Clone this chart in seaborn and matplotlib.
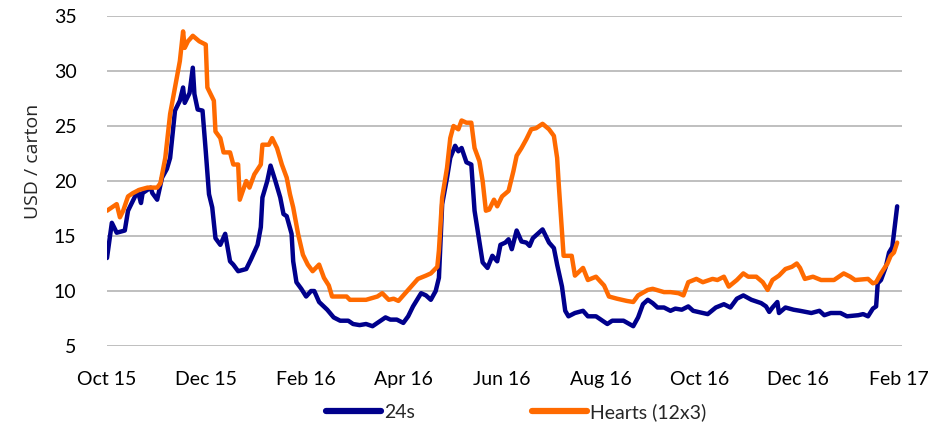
import pandas as pd
import matplotlib
matplotlib.use("Agg")
import matplotlib.pyplot as plt
import seaborn as sns

# ---------------
# data (USD / carton)
dates_24s = [
    "2015-10-01", "2015-10-04", "2015-10-07", "2015-10-12", "2015-10-14", "2015-10-17",
    "2015-10-20", "2015-10-22", "2015-10-23", "2015-10-28", "2015-10-29", "2015-11-01",
    "2015-11-04", "2015-11-07", "2015-11-09", "2015-11-12", "2015-11-15", "2015-11-17",
    "2015-11-18", "2015-11-21", "2015-11-23", "2015-11-24", "2015-11-26", "2015-11-29",
    "2015-12-01", "2015-12-03", "2015-12-05", "2015-12-07", "2015-12-10", "2015-12-13",
    "2015-12-16", "2015-12-18", "2015-12-21", "2015-12-26", "2015-12-29", "2016-01-02",
    "2016-01-04", "2016-01-05", "2016-01-08", "2016-01-10", "2016-01-13", "2016-01-16",
    "2016-01-18", "2016-01-20", "2016-01-23", "2016-01-24", "2016-01-26", "2016-01-29",
    "2016-02-01", "2016-02-04", "2016-02-06", "2016-02-09", "2016-02-14", "2016-02-18",
    "2016-02-22", "2016-02-27", "2016-03-01", "2016-03-05", "2016-03-09", "2016-03-13",
    "2016-03-16", "2016-03-21", "2016-03-24", "2016-03-28", "2016-04-01", "2016-04-04",
    "2016-04-07", "2016-04-12", "2016-04-15", "2016-04-18", "2016-04-21", "2016-04-23",
    "2016-04-25", "2016-04-28", "2016-04-30", "2016-05-03", "2016-05-05", "2016-05-07",
    "2016-05-10", "2016-05-13", "2016-05-15", "2016-05-18", "2016-05-20", "2016-05-23",
    "2016-05-26", "2016-05-29", "2016-05-31", "2016-06-03", "2016-06-05", "2016-06-07",
    "2016-06-10", "2016-06-13", "2016-06-16", "2016-06-18", "2016-06-20", "2016-06-26",
    "2016-06-30", "2016-07-03", "2016-07-05", "2016-07-08", "2016-07-10", "2016-07-12",
    "2016-07-16", "2016-07-21", "2016-07-24", "2016-07-29", "2016-08-01", "2016-08-05",
    "2016-08-08", "2016-08-15", "2016-08-21", "2016-08-24", "2016-08-27", "2016-08-30",
    "2016-09-02", "2016-09-05", "2016-09-09", "2016-09-13", "2016-09-16", "2016-09-20",
    "2016-09-24", "2016-09-27", "2016-10-03", "2016-10-06", "2016-10-11", "2016-10-16",
    "2016-10-20", "2016-10-24", "2016-10-28", "2016-11-02", "2016-11-08", "2016-11-11",
    "2016-11-13", "2016-11-15", "2016-11-18", "2016-11-19", "2016-11-23", "2016-11-28",
    "2016-12-02", "2016-12-09", "2016-12-14", "2016-12-17", "2016-12-21", "2016-12-27",
    "2016-12-31", "2017-01-07", "2017-01-10", "2017-01-13", "2017-01-16", "2017-01-18",
    "2017-01-19", "2017-01-21", "2017-01-24", "2017-01-26", "2017-01-28", "2017-01-31",
]
price_24s = [
    13.0, 16.2, 15.3, 15.5, 17.3, 18.2,
    19.1, 18.0, 18.9, 19.4, 18.9, 18.3,
    20.3, 21.1, 22.1, 26.4, 27.3, 28.5,
    27.1, 28.0, 30.3, 27.9, 26.5, 26.4,
    22.7, 18.8, 17.6, 14.8, 14.2, 15.2,
    12.7, 12.4, 11.8, 12.0, 12.9, 14.2,
    15.8, 18.5, 20.0, 21.4, 20.0, 18.5,
    17.0, 16.8, 15.2, 12.7, 10.8, 10.2,
    9.5, 10.0, 10.0, 9.0, 8.3, 7.6,
    7.3, 7.3, 7.0, 6.9, 7.0, 6.8,
    7.1, 7.6, 7.4, 7.4, 7.1, 7.7,
    8.6, 9.8, 9.6, 9.2, 10.0, 11.2,
    17.9, 20.3, 22.1, 23.2, 22.7, 23.0,
    21.7, 21.5, 17.3, 14.5, 12.6, 12.1,
    13.2, 12.7, 14.2, 14.4, 14.7, 13.8,
    15.5, 14.5, 14.4, 14.1, 14.8, 15.6,
    14.4, 13.9, 12.4, 10.4, 8.2, 7.7,
    8.0, 8.2, 7.7, 7.7, 7.4, 7.0,
    7.3, 7.3, 6.8, 7.6, 8.8, 9.2,
    8.9, 8.5, 8.5, 8.2, 8.4, 8.3,
    8.6, 8.2, 8.0, 7.9, 8.5, 8.8,
    8.5, 9.3, 9.6, 9.2, 8.9, 8.6,
    8.1, 8.5, 9.0, 8.0, 8.5, 8.3,
    8.2, 8.0, 8.2, 7.8, 8.0, 8.0,
    7.7, 7.8, 7.9, 7.7, 8.4, 8.6,
    10.7, 11.0, 12.2, 13.5, 14.0, 17.7,
]

dates_hearts = [
    "2015-10-01", "2015-10-04", "2015-10-07", "2015-10-09", "2015-10-11", "2015-10-14",
    "2015-10-17", "2015-10-21", "2015-10-26", "2015-11-01", "2015-11-03", "2015-11-06",
    "2015-11-09", "2015-11-12", "2015-11-15", "2015-11-17", "2015-11-18", "2015-11-20",
    "2015-11-23", "2015-11-27", "2015-12-01", "2015-12-02", "2015-12-06", "2015-12-07",
    "2015-12-10", "2015-12-12", "2015-12-16", "2015-12-18", "2015-12-21", "2015-12-22",
    "2015-12-26", "2015-12-28", "2015-12-31", "2016-01-04", "2016-01-05", "2016-01-09",
    "2016-01-11", "2016-01-14", "2016-01-17", "2016-01-20", "2016-01-22", "2016-01-24",
    "2016-01-27", "2016-01-30", "2016-02-02", "2016-02-05", "2016-02-09", "2016-02-12",
    "2016-02-15", "2016-02-17", "2016-02-26", "2016-02-28", "2016-03-09", "2016-03-16",
    "2016-03-19", "2016-03-23", "2016-03-26", "2016-03-29", "2016-04-01", "2016-04-04",
    "2016-04-10", "2016-04-15", "2016-04-18", "2016-04-22", "2016-04-23", "2016-04-25",
    "2016-04-28", "2016-04-30", "2016-05-02", "2016-05-05", "2016-05-07", "2016-05-10",
    "2016-05-13", "2016-05-15", "2016-05-18", "2016-05-20", "2016-05-22", "2016-05-24",
    "2016-05-27", "2016-05-29", "2016-06-01", "2016-06-05", "2016-06-08", "2016-06-10",
    "2016-06-13", "2016-06-16", "2016-06-19", "2016-06-22", "2016-06-26", "2016-06-30",
    "2016-07-03", "2016-07-05", "2016-07-06", "2016-07-09", "2016-07-14", "2016-07-16",
    "2016-07-21", "2016-07-24", "2016-07-29", "2016-08-03", "2016-08-06", "2016-08-11",
    "2016-08-17", "2016-08-21", "2016-08-24", "2016-08-30", "2016-09-02", "2016-09-09",
    "2016-09-13", "2016-09-18", "2016-09-21", "2016-09-24", "2016-09-29", "2016-10-03",
    "2016-10-09", "2016-10-12", "2016-10-16", "2016-10-19", "2016-10-24", "2016-10-28",
    "2016-10-31", "2016-11-05", "2016-11-09", "2016-11-12", "2016-11-15", "2016-11-19",
    "2016-11-23", "2016-11-27", "2016-11-30", "2016-12-02", "2016-12-05", "2016-12-10",
    "2016-12-15", "2016-12-23", "2016-12-29", "2017-01-02", "2017-01-05", "2017-01-13",
    "2017-01-16", "2017-01-18", "2017-01-21", "2017-01-25", "2017-01-27", "2017-01-29",
    "2017-01-31",
]
price_hearts = [
    17.3, 17.6, 17.9, 16.7, 17.3, 18.6,
    18.9, 19.2, 19.4, 19.4, 19.8, 22.1,
    26.1, 28.5, 30.9, 33.6, 32.1, 32.7,
    33.2, 32.7, 32.4, 28.5, 27.3, 24.5,
    23.9, 22.6, 22.6, 21.5, 21.5, 18.3,
    20.0, 19.4, 20.6, 21.5, 23.3, 23.3,
    23.9, 23.0, 21.5, 20.3, 18.8, 17.6,
    15.2, 13.3, 12.4, 11.8, 12.4, 11.2,
    10.5, 9.5, 9.5, 9.2, 9.2, 9.5,
    9.8, 9.2, 9.3, 9.1, 9.6, 10.1,
    11.1, 11.4, 11.6, 12.2, 13.7, 18.5,
    21.2, 23.9, 25.0, 24.7, 25.5, 25.3,
    25.3, 23.0, 21.8, 20.0, 17.3, 17.4,
    18.3, 17.7, 18.6, 19.1, 20.9, 22.3,
    23.0, 23.8, 24.7, 24.8, 25.2, 24.7,
    24.1, 22.1, 19.7, 13.2, 13.2, 11.4,
    12.1, 11.0, 11.3, 10.5, 9.5, 9.3,
    9.1, 9.0, 9.6, 10.1, 10.2, 9.9,
    9.9, 9.8, 9.6, 10.8, 11.1, 10.8,
    11.1, 11.0, 11.3, 10.4, 11.0, 11.6,
    11.3, 11.3, 10.8, 10.1, 11.0, 11.4,
    12.0, 12.2, 12.5, 12.1, 11.1, 11.3,
    11.0, 11.0, 11.6, 11.3, 11.0, 11.1,
    10.7, 10.8, 11.6, 12.5, 13.2, 13.5,
    14.4,
]

series_names = ["24s", "Hearts (12x3)"]
series_colors = ["#00008C", "#FF6A00"]
tick_months = ["2015-10-01", "2015-12-01", "2016-02-01", "2016-04-01", "2016-06-01",
               "2016-08-01", "2016-10-01", "2016-12-01", "2017-02-01"]
tick_labels = ["Oct 15", "Dec 15", "Feb 16", "Apr 16", "Jun 16",
               "Aug 16", "Oct 16", "Dec 16", "Feb 17"]

df = pd.concat([
    pd.DataFrame({"date": pd.to_datetime(dates_24s), "price": price_24s, "grade": series_names[0]}),
    pd.DataFrame({"date": pd.to_datetime(dates_hearts), "price": price_hearts, "grade": series_names[1]}),
])

# ---------------
sns.set_style("white")
plt.rcParams["font.family"] = ["Lato", "DejaVu Sans"]

fig = plt.figure(figsize=(9.36, 4.36), dpi=100)
ax = fig.add_axes([0.1143, 0.2064, 0.8494, 0.7569])

sns.lineplot(data=df, x="date", y="price", hue="grade", hue_order=series_names,
             palette=series_colors, linewidth=3.2, ax=ax, legend=True)

ax.set_ylim(5, 35)
ax.set_yticks(range(5, 40, 5))
ax.set_xlim(pd.Timestamp("2015-10-01"), pd.Timestamp("2017-02-03"))
ax.set_xticks(pd.to_datetime(tick_months))
ax.set_xticklabels(tick_labels)
ax.grid(axis="y", color="#BFBFBF", linewidth=1.4)
ax.set_axisbelow(True)
for s in ax.spines.values():
    s.set_visible(False)
ax.tick_params(axis="both", length=0, labelsize=14, colors="black")
ax.tick_params(axis="x", pad=18)
ax.tick_params(axis="y", pad=22)

ax.set_xlabel("")
ax.set_ylabel("USD / carton", fontsize=14, family=["Open Sans", "DejaVu Sans"])
ax.yaxis.set_label_coords(-0.082, 0.56)

leg = ax.legend(loc="upper center", bbox_to_anchor=(0.515, -0.12), ncol=2, frameon=False,
                fontsize=14, handlelength=2.8, handletextpad=0.2, columnspacing=6.0)
for line in leg.get_lines():
    line.set_linewidth(4.5)
    line.set_solid_capstyle("round")

fig.savefig("out.png", dpi=100)
